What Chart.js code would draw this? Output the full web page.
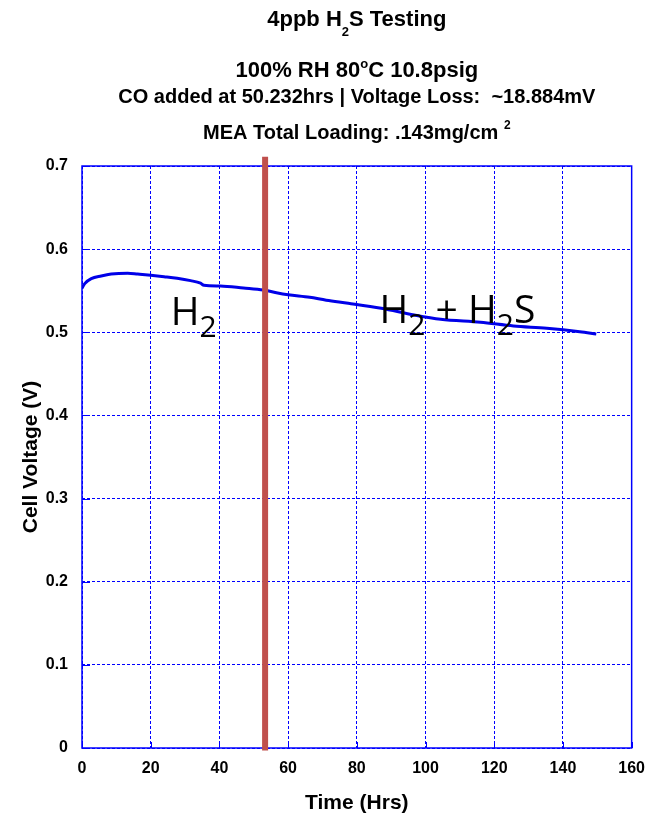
<!DOCTYPE html>
<html>
<head>
<meta charset="utf-8">
<title>4ppb H2S Testing</title>
<script src="https://cdn.jsdelivr.net/npm/chart.js@4/dist/chart.umd.min.js"></script>
<style>
  html, body { margin: 0; padding: 0; background: #ffffff; }
  canvas { display: block; }
</style>
</head>
<body>
<canvas id="chart" width="656" height="817"></canvas>
<script>
// Cell voltage log: elapsed time (h) and voltage (V)
const timeHrs = [0, 0.8, 2.7, 5.6, 8.5, 13.3, 16.2, 20, 23.9, 27.7, 31.6, 34.5, 35.5, 40.3, 47,
                 52.8, 56.6, 60, 66.3, 71.1, 77.5, 87.1, 96.7, 104.4, 116, 125.6, 135.3, 144.9, 149.7];
const cellVolts = [0.553, 0.5585, 0.5645, 0.5677, 0.570, 0.571, 0.570, 0.5686, 0.5669, 0.565, 0.5621, 0.559, 0.5565, 0.5557, 0.5533,
                   0.5509, 0.5476, 0.5452, 0.5421, 0.5385, 0.5349, 0.5289, 0.5208, 0.5156, 0.512, 0.5076, 0.5048, 0.5007, 0.498];

// Contaminant switch-over marker (vertical bar)
const markerHrs = 53.3;
const markerVolts = [-0.003, 0.711];

// Axis ticks
const xTickValues = [0, 20, 40, 60, 80, 100, 120, 140, 160];
const yTickLabels = ['0', '0.1', '0.2', '0.3', '0.4', '0.5', '0.6', '0.7'];

// Title lines, as runs of plain / subscript / superscript text
const titleLines = [
  { size: 22, baseline: 26,  runs: [['4ppb H'], ['2', 'sub'], ['S Testing']] },
  { size: 22, baseline: 77,  runs: [['100% RH 80'], ['o', 'deg'], ['C 10.8psig']] },
  { size: 20, baseline: 103, runs: [['CO added at 50.232hrs | Voltage Loss:  ~18.884mV']] },
  { size: 20, baseline: 139, runs: [['MEA Total Loading: .143mg/cm '], ['2', 'sup']] }
];

// Gas-feed phase labels, placed in data units (left edge, baseline)
const phaseLabels = [
  { x: 25.8, y: 0.5088, runs: [['H'], ['2', 'sub']] },
  { x: 86.6, y: 0.5106, runs: [['H'], ['2', 'sub'], [' + H'], ['2', 'sub'], ['S']] }
];

const BOLD = "'Liberation Sans', Arial, Helvetica, sans-serif";
const BLUE = '#0000ff';

function drawRuns(ctx, runs, x, y, size, family, weight, align, subScale) {
  const parts = runs.map(([text, kind]) => {
    const f = kind ? { font: `${weight} ${Math.round(size * subScale)}px ${family}`,
                       dy: kind === 'sub' ? size * (subScale > 0.7 ? 0.3 : 0.45) : kind === 'deg' ? -size * 0.4 : -size * 0.5 }
                   : { font: `${weight} ${size}px ${family}`, dy: 0 };
    ctx.font = f.font;
    return { text, font: f.font, dy: f.dy, w: ctx.measureText(text).width };
  });
  const total = parts.reduce((s, p) => s + p.w, 0);
  let cx = align === 'center' ? x - total / 2 : x;
  ctx.textAlign = 'left';
  ctx.textBaseline = 'alphabetic';
  for (const p of parts) {
    ctx.font = p.font;
    ctx.fillText(p.text, cx, y + p.dy);
    cx += p.w;
  }
}

const decorations = {
  id: 'decorations',
  beforeDraw(chart) {
    const { ctx, width, height } = chart;
    ctx.save();
    ctx.fillStyle = '#ffffff';
    ctx.fillRect(0, 0, width, height);
    ctx.restore();
  },
  beforeDatasetsDraw(chart) {
    const { ctx, chartArea: a, scales: { x, y } } = chart;
    ctx.save();
    ctx.strokeStyle = BLUE;
    ctx.lineWidth = 1.5;
    ctx.setLineDash([]);
    ctx.strokeRect(a.left, a.top, a.right - a.left, a.bottom - a.top);
    ctx.lineWidth = 1;
    ctx.beginPath();
    for (const t of y.ticks) {
      const py = Math.round(y.getPixelForValue(t.value)) + 0.5;
      ctx.moveTo(a.left, py); ctx.lineTo(a.left + 8, py);
    }
    for (const t of x.ticks) {
      const px = Math.round(x.getPixelForValue(t.value)) + 0.5;
      ctx.moveTo(px, a.bottom); ctx.lineTo(px, a.bottom - 6);
    }
    ctx.stroke();
    ctx.restore();
  },
  afterDraw(chart) {
    const { ctx, chartArea: a, scales: { x, y } } = chart;
    ctx.save();
    ctx.fillStyle = '#000000';
    const cx = (a.left + a.right) / 2;
    for (const line of titleLines) {
      drawRuns(ctx, line.runs, cx, line.baseline, line.size, BOLD, 'bold', 'center', 0.6);
    }
    for (const lab of phaseLabels) {
      drawRuns(ctx, lab.runs, x.getPixelForValue(lab.x), y.getPixelForValue(lab.y),
               39, "'Open Sans', 'Noto Sans', sans-serif", 'normal', 'left', 0.77);
    }
    ctx.restore();
  }
};

new Chart(document.getElementById('chart'), {
  type: 'line',
  data: {
    datasets: [
      {
        label: 'marker',
        data: markerVolts.map(v => ({ x: markerHrs, y: v })),
        borderColor: '#c0504d',
        borderWidth: 6,
        pointRadius: 0,
        clip: false,
        order: 0
      },
      {
        label: 'Cell Voltage',
        data: timeHrs.map((t, i) => ({ x: t, y: cellVolts[i] })),
        borderColor: '#0000e8',
        borderWidth: 3,
        pointRadius: 0,
        cubicInterpolationMode: 'monotone',
        order: 1
      }
    ]
  },
  options: {
    responsive: false,
    animation: false,
    events: [],
    layout: { padding: { top: 166, right: 22, left: 0, bottom: 0 } },
    plugins: { legend: { display: false }, tooltip: { enabled: false }, title: { display: false } },
    scales: {
      x: {
        type: 'linear',
        min: 0, max: 160,
        afterBuildTicks(s) { s.ticks = xTickValues.map(v => ({ value: v })); },
        ticks: { font: { family: BOLD, size: 16, weight: 'bold' }, color: '#000', padding: 11, maxRotation: 0 },
        grid: { color: BLUE, lineWidth: 1, drawTicks: false },
        border: { display: false, dash: [3, 2] },
        title: { display: true, text: 'Time (Hrs)', color: '#000',
                 font: { family: BOLD, size: 21, weight: 'bold', lineHeight: 1.0 }, padding: { top: 0, bottom: 3.5 } },
        afterFit(s) { s.height = 69; }
      },
      y: {
        type: 'linear',
        min: 0, max: 0.7,
        ticks: { stepSize: 0.1, font: { family: BOLD, size: 16, weight: 'bold' }, color: '#000', padding: 14,
                 callback: v => yTickLabels[Math.round(v * 10)] },
        grid: { color: BLUE, lineWidth: 1, drawTicks: false },
        border: { display: false, dash: [3, 2] },
        title: { display: true, text: 'Cell Voltage (V)', color: '#000',
                 font: { family: BOLD, size: 21, weight: 'bold' }, padding: { top: 19, bottom: 0 } },
        afterFit(s) { s.width = 82; }
      }
    }
  },
  plugins: [decorations]
});
</script>
</body>
</html>
